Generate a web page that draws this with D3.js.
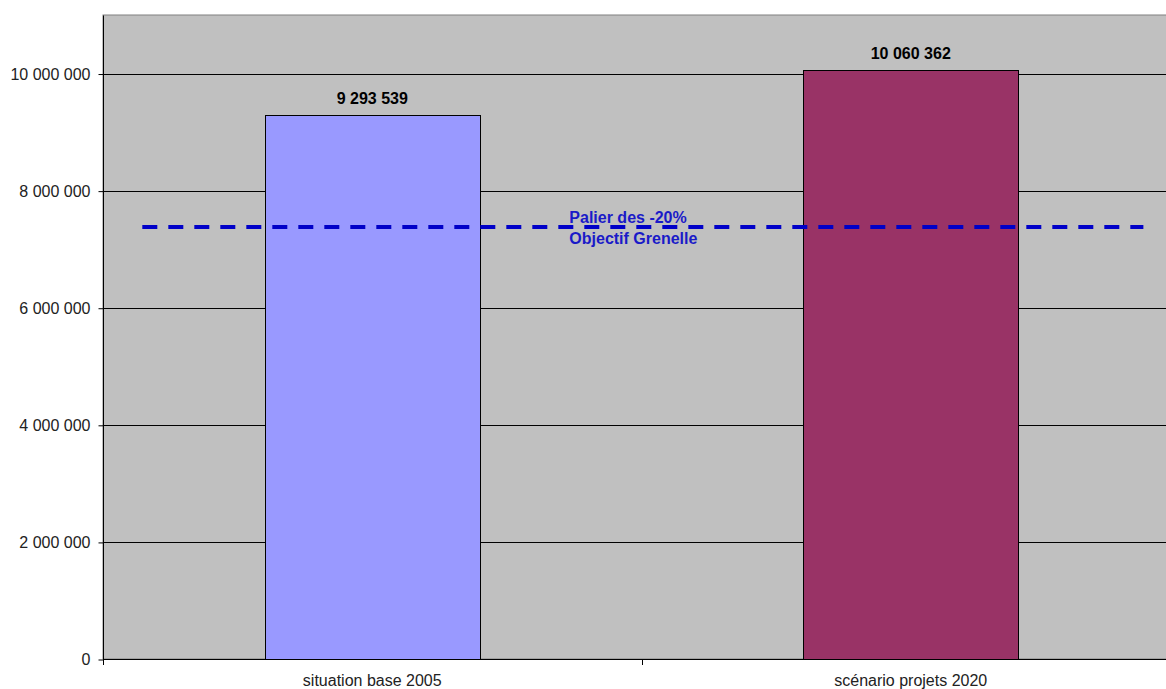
<!DOCTYPE html>
<html><head><meta charset="utf-8">
<script src="https://cdn.jsdelivr.net/npm/d3@7"></script>
<style>
html,body{margin:0;padding:0;background:#fff;}
svg{display:block;}
text{font-family:Arial,"Liberation Sans",sans-serif;}
</style></head>
<body>
<svg id="chart" width="1166" height="689"></svg>
<script>
const categories = ["situation base 2005", "scénario projets 2020"];
const values = [9293539, 10060362];
const barColors = ["#9999ff", "#993366"];
const yTicks = [0, 2000000, 4000000, 6000000, 8000000, 10000000];
const thresholdValue = 7380000;
const thresholdLabel = ["Palier des -20%", "Objectif Grenelle"];

const W = 1166, H = 689;
const plot = {left: 103, top: 15, right: 1180, bottom: 659};
const svg = d3.select("#chart");
const fr = d3.formatLocale({decimal: ",", thousands: " ", grouping: [3], currency: ["", " €"]});
const fmt = fr.format(",d");

const x = d3.scaleBand().domain(categories).range([plot.left, plot.right]).paddingInner(0.6).paddingOuter(0.3);
const y = d3.scaleLinear().domain([0, 11000000]).range([plot.bottom, plot.top]);

// plot area
svg.append("rect").attr("x", plot.left).attr("y", plot.top)
  .attr("width", plot.right - plot.left).attr("height", plot.bottom - plot.top)
  .attr("fill", "#c0c0c0").attr("stroke", "#808080").attr("stroke-width", 1);

// gridlines
svg.append("g").selectAll("line").data(yTicks.filter(d => d > 0)).join("line")
  .attr("x1", plot.left).attr("x2", plot.right)
  .attr("y1", d => Math.round(y(d)) + 0.5).attr("y2", d => Math.round(y(d)) + 0.5)
  .attr("stroke", "#000").attr("stroke-width", 1);

// bars
svg.append("g").selectAll("rect").data(values).join("rect")
  .attr("x", (d, i) => Math.round(x(categories[i])) + 0.5)
  .attr("y", d => Math.round(y(d)) + 0.5)
  .attr("width", Math.round(x.bandwidth()))
  .attr("height", d => Math.round(y(0)) - Math.round(y(d)))
  .attr("fill", (d, i) => barColors[i])
  .attr("stroke", "#000").attr("stroke-width", 1);

// value labels
svg.append("g").selectAll("text").data(values).join("text")
  .attr("x", (d, i) => x(categories[i]) + x.bandwidth() / 2)
  .attr("y", d => y(d) - 11)
  .attr("text-anchor", "middle")
  .attr("font-size", 16).attr("font-weight", "bold").attr("fill", "#000")
  .text(d => fmt(d));

// y axis
const yAxis = d3.axisLeft(y).tickValues(yTicks).tickFormat(d => fmt(d)).tickSize(5).tickPadding(8);
const gy = svg.append("g").attr("transform", `translate(${plot.left + 0.5},0.5)`).call(yAxis);
gy.select(".domain").attr("stroke", "#000").attr("d", `M0,${plot.top}V${Math.round(y(0))}`);
gy.selectAll(".tick line").attr("stroke", "#000");
gy.selectAll(".tick text").attr("font-size", 16).attr("fill", "#222").attr("font-family", "Arial, 'Liberation Sans', sans-serif");

// x axis
const step = x.step();
const boundaries = [plot.left, x(categories[0]) + x.bandwidth() / 2 + step / 2, plot.right];
const gx = svg.append("g");
gx.append("line").attr("x1", plot.left).attr("x2", plot.right)
  .attr("y1", Math.round(y(0)) + 0.5).attr("y2", Math.round(y(0)) + 0.5).attr("stroke", "#000");
gx.selectAll("line.tk").data(boundaries).join("line").attr("class", "tk")
  .attr("x1", d => Math.round(d) + 0.5).attr("x2", d => Math.round(d) + 0.5)
  .attr("y1", Math.round(y(0))).attr("y2", Math.round(y(0)) + 6).attr("stroke", "#000");
gx.selectAll("text").data(categories).join("text")
  .attr("x", d => x(d) + x.bandwidth() / 2).attr("y", 686)
  .attr("text-anchor", "middle").attr("font-size", 16).attr("fill", "#222")
  .text(d => d);

// threshold dashed line
const ty = y(thresholdValue);
const lineStart = plot.left + (plot.right - plot.left) * 0.0365;
const lineEnd = plot.left + (plot.right - plot.left) * 0.966;
svg.append("line").attr("x1", lineStart).attr("x2", lineEnd)
  .attr("y1", ty).attr("y2", ty)
  .attr("stroke", "#0000c8").attr("stroke-width", 4)
  .attr("stroke-dasharray", "15 11");

const labelX = x(categories[0]) + x.bandwidth() / 2 + step * 0.366;
svg.append("g").selectAll("text").data(thresholdLabel).join("text")
  .attr("x", labelX).attr("y", (d, i) => ty - 4 + i * 21)
  .attr("font-size", 16).attr("font-weight", "bold").attr("fill", "#1a1ac8")
  .text(d => d);
</script>
</body></html>
